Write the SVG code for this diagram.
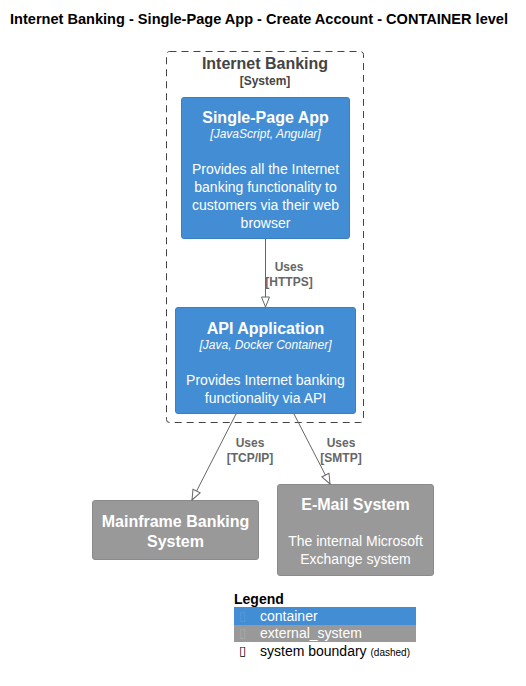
<svg xmlns="http://www.w3.org/2000/svg" width="526" height="686" viewBox="0 0 526 686">
<style>
text{font-family:"Liberation Sans",Arial,sans-serif}
.title{font-size:14px;font-weight:bold;fill:#000}
.nt{font-size:16px;font-weight:bold;fill:#fff;text-anchor:middle}
.tech{font-size:12px;font-style:italic;fill:#fff;text-anchor:middle}
.desc{font-size:14px;fill:#fff;text-anchor:middle}
.bt{font-size:16px;font-weight:bold;fill:#444;text-anchor:middle}
.bs{font-size:12px;font-weight:bold;fill:#444;text-anchor:middle}
.lbl{font-size:12px;font-weight:bold;fill:#666;text-anchor:middle}
.cont{fill:#438DD5;stroke:#3C7FC0;stroke-width:1}
.ext{fill:#999999;stroke:#8A8A8A;stroke-width:1}
.conn{stroke:#666;stroke-width:1;fill:none}
.lg{font-size:14px}
.gl{font-family:"DejaVu Sans",sans-serif;font-size:13px}
</style>
<defs>
<marker id="arr" viewBox="0 0 12 10" refX="11" refY="5" markerWidth="12" markerHeight="10" markerUnits="userSpaceOnUse" orient="auto">
<path d="M1,1 L11,5 L1,9 Z" fill="#fff" stroke="#666" stroke-width="1"/>
</marker>
</defs>
<text class="title" x="10" y="24" textLength="498" lengthAdjust="spacingAndGlyphs">Internet Banking - Single-Page App - Create Account - CONTAINER level</text>

<g id="boundary">
<rect x="166.5" y="51.5" width="197" height="371" rx="3" fill="none" stroke="#444" stroke-width="1" stroke-dasharray="7,5"/>
<text class="bt" x="265" y="69">Internet Banking</text>
<text class="bs" x="265" y="85">[System]</text>
</g>

<g id="spa">
<rect class="cont" x="181.5" y="97.5" width="168" height="141" rx="2.5"/>
<text class="nt" x="265.5" y="123">Single-Page App</text>
<text class="tech" x="265.5" y="138">[JavaScript, Angular]</text>
<text class="desc" x="265.5" y="174">Provides all the Internet</text>
<text class="desc" x="265.5" y="192">banking functionality to</text>
<text class="desc" x="265.5" y="210">customers via their web</text>
<text class="desc" x="265.5" y="228">browser</text>
</g>

<g id="api">
<rect class="cont" x="175.5" y="307.5" width="180" height="106" rx="2.5"/>
<text class="nt" x="265.5" y="334">API Application</text>
<text class="tech" x="265.5" y="349">[Java, Docker Container]</text>
<text class="desc" x="265.5" y="385">Provides Internet banking</text>
<text class="desc" x="265.5" y="403">functionality via API</text>
</g>

<g id="mainframe">
<rect class="ext" x="92.5" y="500.5" width="166" height="59" rx="2.5"/>
<text class="nt" x="175.5" y="527">Mainframe Banking</text>
<text class="nt" x="175.5" y="547">System</text>
</g>

<g id="email">
<rect class="ext" x="277.5" y="484.5" width="156" height="91" rx="2.5"/>
<text class="nt" x="355.5" y="510">E-Mail System</text>
<text class="desc" x="355.5" y="546">The internal Microsoft</text>
<text class="desc" x="355.5" y="564">Exchange system</text>
</g>

<g id="connectors">
<line class="conn" x1="265.5" y1="239" x2="265.5" y2="307" marker-end="url(#arr)"/>
<text class="lbl" x="289" y="271">Uses</text>
<text class="lbl" x="289" y="286">[HTTPS]</text>
<line class="conn" x1="236" y1="414" x2="192" y2="500" marker-end="url(#arr)"/>
<text class="lbl" x="250" y="447">Uses</text>
<text class="lbl" x="250" y="462">[TCP/IP]</text>
<line class="conn" x1="294" y1="414" x2="330" y2="484" marker-end="url(#arr)"/>
<text class="lbl" x="341" y="447">Uses</text>
<text class="lbl" x="341" y="462">[SMTP]</text>
</g>

<g id="legend">
<text x="234" y="604" style="font-size:14px;font-weight:bold;fill:#000">Legend</text>
<rect x="234" y="607" width="182" height="18" fill="#438DD5"/>
<rect x="234" y="625" width="182" height="17" fill="#999999"/>
<text x="239" y="620" class="gl" fill="#5A9BDC">▯</text>
<text x="260" y="621" class="lg" fill="#fff">container</text>
<text x="239" y="637" class="gl" fill="#AAAAAA">▯</text>
<text x="260" y="638" class="lg" fill="#fff">external_system</text>
<text x="239" y="655" class="gl" fill="#000">▯</text>
<text x="260" y="656" class="lg" fill="#000">system boundary <tspan style="font-size:10px">(dashed)</tspan></text>
</g>
</svg>
